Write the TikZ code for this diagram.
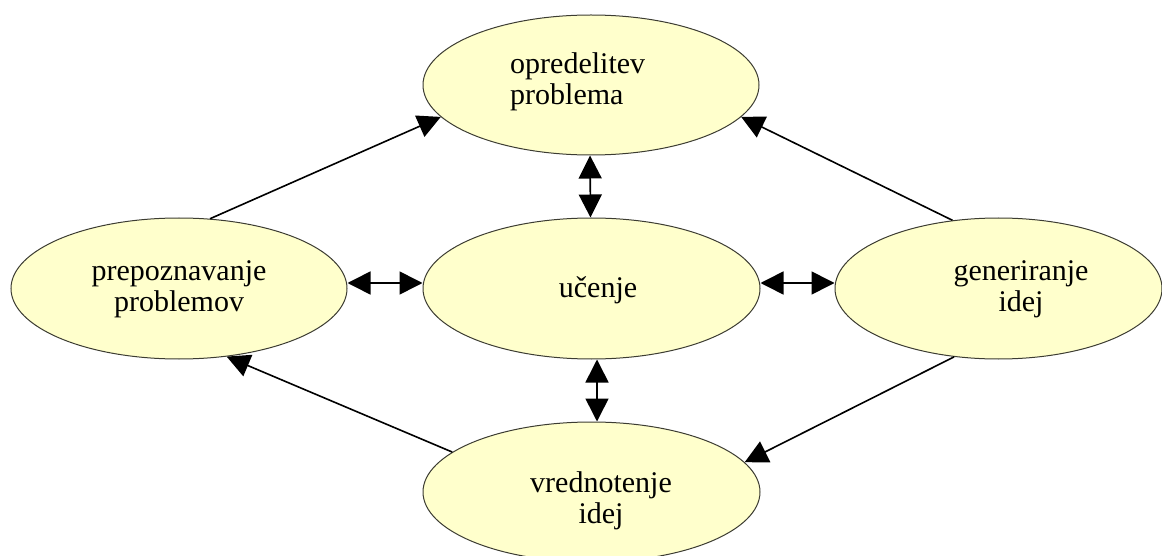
\documentclass[tikz,border=0pt]{standalone}
\usepackage{fontspec}
\setmainfont{Liberation Serif}
\usetikzlibrary{shapes.geometric,arrows.meta}
\definecolor{ellfill}{RGB}{255,255,204}
\definecolor{ellline}{RGB}{60,60,50}
\newcommand\twoc[2]{\begin{tabular}[t]{@{}c@{}}#1\\#2\end{tabular}}
\newcommand\twol[2]{\begin{tabular}[t]{@{}l@{}}#1\\#2\end{tabular}}
\tikzset{
  bubble/.style={ellipse, draw=ellline, line width=1pt, fill=ellfill, inner sep=0pt},
  lbl/.style={anchor=base, inner sep=0pt, font=\fontsize{30}{31}\selectfont},
  conn/.style={line width=1.6pt, -{Triangle[length=23pt,width=23pt]}},
  dconn/.style={line width=1.6pt, {Triangle[length=23pt,width=23pt]}-{Triangle[length=23pt,width=23pt]}}
}
\begin{document}
\begin{tikzpicture}[x=1pt,y=-1pt]
\useasboundingbox (0,0) rectangle (1162,556);
\clip (0,0) rectangle (1162,556);
\node[bubble, minimum width=336pt, minimum height=140pt] (T) at (591,85) {};
\node[bubble, minimum width=337pt, minimum height=141pt] (M) at (591.5,288.5) {};
\node[bubble, minimum width=336pt, minimum height=141pt] (L) at (179,288.5) {};
\node[bubble, minimum width=327pt, minimum height=141pt] (R) at (998.5,288.5) {};
\node[bubble, minimum width=337pt, minimum height=140pt] (B) at (591.5,492) {};
\node[lbl, anchor=base west] (tT) at (510,74) {\twol{opredelitev}{problema}};
\node[lbl] (tM) at (598,297) {učenje};
\node[lbl] (tL) at (179,280) {\twoc{prepoznavanje}{problemov}};
\node[lbl] (tR) at (1021,280) {\twoc{generiranje}{idej}};
\node[lbl] (tB) at (601,492) {\twoc{vrednotenje}{idej}};
\draw[dconn] ([xshift=-1pt]T.south) -- ([xshift=-1pt]M.north);
\draw[dconn] ([xshift=5.5pt]M.south) -- ([xshift=5.5pt]B.north);
\draw[dconn] ([yshift=5.5pt]L.east) -- ([yshift=5.5pt]M.west);
\draw[dconn] ([yshift=5.5pt]M.east) -- ([yshift=5.5pt]R.west);
\draw[conn] (L.66) -- (T.192);
\draw[conn] (R.124) -- (T.348);
\draw[conn] (R.237) -- (B.11);
\draw[conn] (B.164) -- (L.305);
\end{tikzpicture}
\end{document}
